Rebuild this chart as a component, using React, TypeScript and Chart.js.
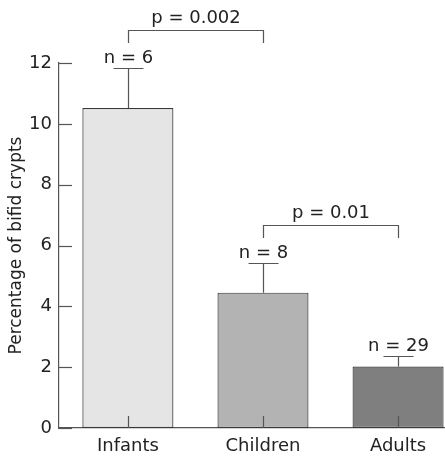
import React, { useEffect, useRef } from "react";
import { Chart, registerables } from "chart.js";

Chart.register(...registerables);

const categories = ["Infants", "Children", "Adults"];
const means = [10.52, 4.45, 2.02];
const errorTops = [11.83, 5.42, 2.38];
const nLabels = ["n = 6", "n = 8", "n = 29"];
const barColors = ["#e5e5e5", "#b3b3b3", "#7f7f7f"];
const yTicks = [0, 2, 4, 6, 8, 10, 12];

const bracketFrom = [0, 1];
const bracketTo = [1, 2];
const bracketLevel = [13.08, 6.67];
const bracketDrop = [0.42, 0.42];
const bracketLabels = ["p = 0.002", "p = 0.01"];

const FONT = "'DejaVu Sans', sans-serif";
const INK = "#222";
const LINE = "#555";

const overlayPlugin = {
  id: "overlay",
  afterDatasetsDraw(chart: any) {
    const ctx = chart.ctx;
    const xs = chart.scales.x;
    const ys = chart.scales.y;
    const area = chart.chartArea;
    ctx.save();
    ctx.strokeStyle = LINE;
    ctx.lineWidth = 1.2;
    ys.ticks.forEach((t: any) => {
      const py = Math.round(ys.getPixelForValue(t.value)) + 0.5;
      ctx.beginPath();
      ctx.moveTo(area.left, py);
      ctx.lineTo(area.left + 13, py);
      ctx.stroke();
    });
    categories.forEach((_, i) => {
      const px = Math.round(xs.getPixelForValue(i)) + 0.5;
      ctx.beginPath();
      ctx.moveTo(px, area.bottom);
      ctx.lineTo(px, area.bottom - 12);
      ctx.stroke();
    });
    categories.forEach((_, i) => {
      const px = Math.round(xs.getPixelForValue(i)) + 0.5;
      const pTop = Math.round(ys.getPixelForValue(errorTops[i])) + 0.5;
      const pMean = ys.getPixelForValue(means[i]);
      ctx.beginPath();
      ctx.moveTo(px, pMean);
      ctx.lineTo(px, pTop);
      ctx.moveTo(px - 15, pTop);
      ctx.lineTo(px + 15, pTop);
      ctx.stroke();
      ctx.fillStyle = INK;
      ctx.font = `18px ${FONT}`;
      ctx.textAlign = "center";
      ctx.textBaseline = "alphabetic";
      ctx.fillText(nLabels[i], px, pTop - 6);
    });
    bracketLabels.forEach((label, k) => {
      const x1 = Math.round(xs.getPixelForValue(bracketFrom[k])) + 0.5;
      const x2 = Math.round(xs.getPixelForValue(bracketTo[k])) + 0.5;
      const py = Math.round(ys.getPixelForValue(bracketLevel[k])) + 0.5;
      const pd = ys.getPixelForValue(bracketLevel[k] - bracketDrop[k]);
      ctx.beginPath();
      ctx.moveTo(x1, pd);
      ctx.lineTo(x1, py);
      ctx.lineTo(x2, py);
      ctx.lineTo(x2, pd);
      ctx.stroke();
      ctx.fillStyle = INK;
      ctx.font = `18px ${FONT}`;
      ctx.textAlign = "center";
      ctx.textBaseline = "alphabetic";
      ctx.fillText(label, (x1 + x2) / 2, py - 8);
    });
    ctx.restore();
  },
};

export default function App() {
  const ref = useRef<HTMLCanvasElement>(null);
  useEffect(() => {
    if (!ref.current) return;
    const chart = new Chart(ref.current, {
      type: "bar",
      data: {
        datasets: [
          {
            data: means.map((v, i) => ({ x: i, y: v })),
            backgroundColor: barColors,
            borderColor: "#3a3a3a",
            borderWidth: 1.2,
            borderSkipped: false,
            categoryPercentage: 1,
            barPercentage: 0.674,
          },
        ],
      },
      options: {
        animation: false,
        responsive: false,
        layout: { padding: { top: 63, right: 1, left: 0, bottom: 0 } },
        plugins: { legend: { display: false }, tooltip: { enabled: false } },
        scales: {
          x: {
            type: "linear",
            offset: false,
            min: -0.51,
            max: 2.34,
            afterBuildTicks: (s: any) => {
              s.ticks = categories.map((_, i) => ({ value: i }));
            },
            afterFit: (s: any) => {
              s.height = 30;
            },
            grid: { display: false, drawTicks: false },
            border: { display: true, color: LINE, width: 1.2 },
            ticks: {
              padding: 8,
              color: INK,
              font: { size: 18, family: FONT },
              maxRotation: 0,
              autoSkip: false,
              callback: (v: any) => categories[v] ?? "",
            },
          },
          y: {
            min: 0,
            max: 12,
            afterBuildTicks: (s: any) => {
              s.ticks = yTicks.map((v) => ({ value: v }));
            },
            afterFit: (s: any) => {
              s.width = 59;
            },
            grid: { display: false, drawTicks: false },
            border: { display: true, color: LINE, width: 1.2 },
            ticks: {
              padding: 7,
              color: INK,
              font: { size: 18, family: FONT },
            },
            title: {
              display: true,
              text: "Percentage of bifid crypts",
              color: INK,
              font: { size: 17, family: FONT },
              padding: { top: 6, bottom: 0 },
            },
          },
        },
      },
      plugins: [overlayPlugin],
    } as any);
    return () => chart.destroy();
  }, []);
  return (
    <div style={{ position: "absolute", left: 0, top: 0, width: 445, height: 458, background: "#fff" }}>
      <canvas ref={ref} width={445} height={458} style={{ display: "block" }} />
    </div>
  );
}
